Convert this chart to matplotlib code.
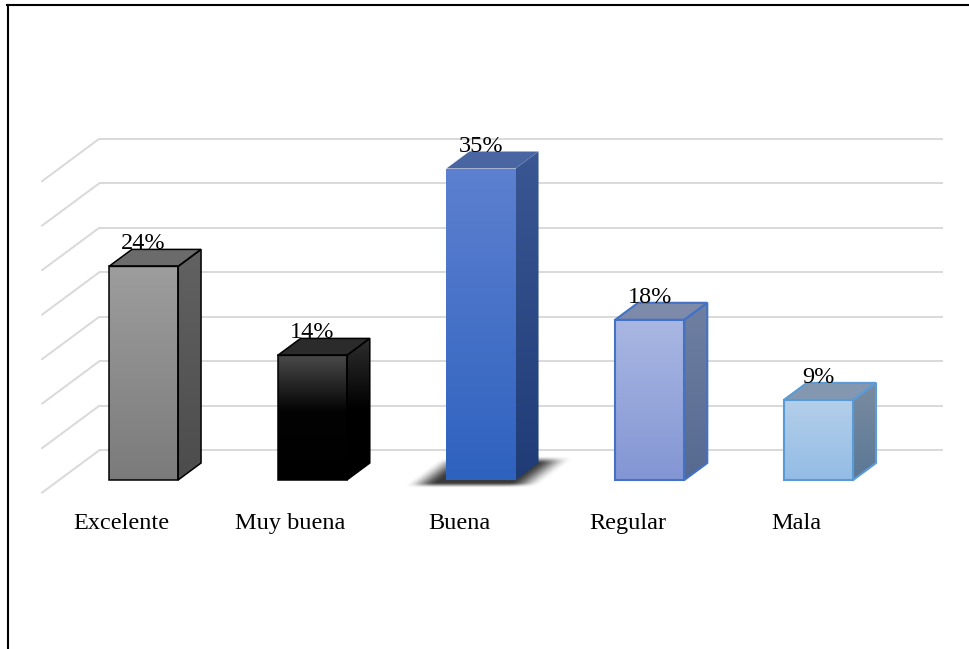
import numpy as np
import matplotlib
matplotlib.use("Agg")
import matplotlib.pyplot as plt
from matplotlib.patches import Polygon
from matplotlib.lines import Line2D
from matplotlib.colors import to_rgb

# ---- data -------------------------------------------------------------
categorias = ["Excelente", "Muy buena", "Buena", "Regular", "Mala"]
porcentajes = [24, 14, 35, 18, 9]
etiquetas = [f"{p}%" for p in porcentajes]
niveles = list(range(0, 40, 5))

# ---- styling ----------------------------------------------------------
# gradient stops (fraction from top, colour) for front and side faces
frente = [
    [(0, "#9d9d9d"), (1, "#7b7b7b")],
    [(0, "#4a4a4a"), (0.45, "#030303"), (1, "#000000")],
    [(0, "#5d80d0"), (1, "#2e62bf")],
    [(0, "#aab7e3"), (1, "#8396d4")],
    [(0, "#b4cfea"), (1, "#93bce5")],
]
lateral = [
    [(0, "#626262"), (1, "#4c4c4c")],
    [(0, "#2e2e2e"), (0.5, "#000000"), (1, "#000000")],
    [(0, "#3a5793"), (1, "#1f3c77")],
    [(0, "#6f80a3"), (1, "#56698f")],
    [(0, "#7a8ca0"), (1, "#5b7896")],
]
tapa = ["#6b6b6b", "#2b2b2b", "#4a66a2", "#7e8aa9", "#8398b0"]
borde = ["#000000", "#000000", None, "#4472c4", "#5b9bd5"]
ancho_borde = [1.1, 1.1, 0, 1.5, 1.5]
sombra = [False, False, True, False, False]

# oblique projection of the 3-D box
W = 0.205          # half width of a bar
DX, DY = 0.136, 1.91   # screen offset for one unit of depth
D_BACK, D_FRONT = 1.75, -0.75
X_LEFT, X_RIGHT = -0.5, len(categorias) - 0.5


def proj(x, v, d):
    return (x + d * DX, v + d * DY)


fig = plt.figure(figsize=(9.70, 6.49), dpi=100)
ax = fig.add_axes([0, 0, 1, 1])
ax.set_axis_off()
XL = (0 - 143.5) / 168.75, (970 - 143.5) / 168.75
YL = (480 - 649) / 8.9, (480 - 0) / 8.9
ax.set_xlim(*XL)
ax.set_ylim(*YL)

# ---- walls / gridlines ----------------------------------------------
gcol = "#d9d9d9"
for v in niveles:
    p0 = proj(X_LEFT, v, D_BACK)
    p1 = proj(X_RIGHT, v, D_BACK)
    ax.plot([p0[0], p1[0]], [p0[1], p1[1]], color=gcol, lw=1.4, zorder=1,
            solid_capstyle="butt")
    q0 = proj(X_LEFT, v, D_FRONT)
    ax.plot([q0[0], p0[0]], [q0[1], p0[1]], color=gcol, lw=1.4, zorder=1,
            solid_capstyle="round")


def gradient_face(pts, stops, z):
    poly = Polygon(pts, closed=True, facecolor="none", edgecolor="none", zorder=z)
    ax.add_patch(poly)
    xs = [p[0] for p in pts]
    ys = [p[1] for p in pts]
    n = 200
    t = np.linspace(0, 1, n)
    fr = [s[0] for s in stops]
    cols = np.array([to_rgb(s[1]) for s in stops])
    img = np.stack([np.interp(t, fr, cols[:, k]) for k in range(3)], axis=-1)
    img = img[:, None, :]
    im = ax.imshow(img, extent=[min(xs), max(xs), min(ys), max(ys)],
                   origin="upper", aspect="auto", interpolation="bilinear",
                   zorder=z)
    im.set_clip_path(poly)


def drop_shadow(i, z):
    # soft dark footprint on the floor around the bar base
    x0, x1 = i - W - 0.34, i + W + 0.52
    y0, y1 = -1.4, 3.0
    nx, ny = 260, 140
    X, Y = np.meshgrid(np.linspace(x0, x1, nx), np.linspace(y1, y0, ny))
    d = Y / DY
    xw = X - d * DX

    def ramp(a, s):
        u = np.clip(a / s, 0, 1)
        return u * u * (3 - 2 * u)

    a = (ramp(xw - (i - W - 0.21), 0.19) * ramp((i + W + 0.19) - xw, 0.2)
         * ramp(d - (-0.5), 0.32) * ramp(1.35 - d, 0.45))
    rgba = np.zeros((ny, nx, 4))
    rgba[..., :3] = 0.12
    rgba[..., 3] = 0.88 * a
    ax.imshow(rgba, extent=[x0, x1, y0, y1], origin="upper", aspect="auto",
              interpolation="bilinear", zorder=z)


for i, v in enumerate(porcentajes):
    z = 3 + i * 0.1
    if sombra[i]:
        drop_shadow(i, 2)
    front = [(i - W, 0), (i + W, 0), (i + W, v), (i - W, v)]
    side = [proj(i + W, 0, 0), proj(i + W, 0, 1), proj(i + W, v, 1), proj(i + W, v, 0)]
    top = [proj(i - W, v, 0), proj(i + W, v, 0), proj(i + W, v, 1), proj(i - W, v, 1)]
    gradient_face(front, frente[i], z)
    gradient_face(side, lateral[i], z)
    ax.add_patch(Polygon(top, closed=True, facecolor=tapa[i], edgecolor="none", zorder=z))
    if borde[i] is not None:
        for face in (front, side, top):
            ax.add_patch(Polygon(face, closed=True, facecolor="none",
                                 edgecolor=borde[i], lw=ancho_borde[i],
                                 joinstyle="miter", zorder=z + 0.05))
    # value label
    ax.text(i, v + DY, etiquetas[i], ha="center", va="baseline",
            fontsize=17.5, family="Liberation Serif", color="black", zorder=10)
    # category label
    ax.text(i - 0.13, -5.5, categorias[i], ha="center", va="baseline",
            fontsize=17.5, family="Liberation Serif", color="black", zorder=10)

ax.set_xlim(*XL)
ax.set_ylim(*YL)

# chart frame (top and left edges)
fig.add_artist(Line2D([7.5 / 970, 1], [1 - 5 / 649, 1 - 5 / 649],
                      transform=fig.transFigure, color="black", lw=1.5))
fig.add_artist(Line2D([8 / 970, 8 / 970], [1 - 5 / 649, 0],
                      transform=fig.transFigure, color="black", lw=1.5))

fig.savefig("out.png", dpi=100, facecolor="white")
